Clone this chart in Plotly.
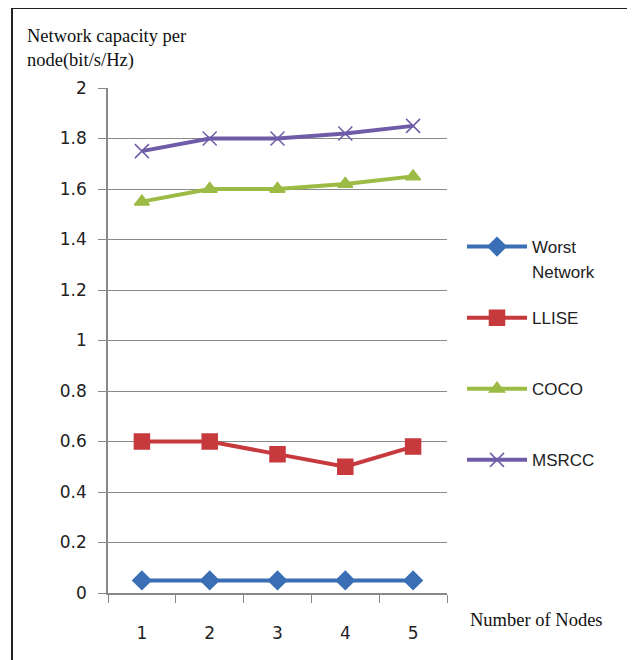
import plotly.graph_objects as go

nodes = ["1", "2", "3", "4", "5"]
worst = [0.05, 0.05, 0.05, 0.05, 0.05]
llise = [0.60, 0.60, 0.55, 0.50, 0.58]
coco = [1.55, 1.60, 1.60, 1.62, 1.65]
msrcc = [1.75, 1.80, 1.80, 1.82, 1.85]
series_names = ["Worst", "LLISE", "COCO", "MSRCC"]
y_ticks = [0, 0.2, 0.4, 0.6, 0.8, 1, 1.2, 1.4, 1.6, 1.8, 2]
y_ticklabels = ["0", "0.2", "0.4", "0.6", "0.8", "1", "1.2", "1.4", "1.6", "1.8", "2"]

colors = ["#3A6FB5", "#C63A3E", "#9BBB45", "#6F5CA8"]
symbols = ["diamond", "square", "triangle-up", "x-thin"]
sizes = [14, 15, 13, 14]
data = [worst, llise, coco, msrcc]

fig = go.Figure()
for i, (name, vals) in enumerate(zip(series_names, data)):
    fig.add_trace(go.Scatter(
        x=nodes, y=vals, name=name, mode="lines+markers",
        line=dict(color=colors[i], width=4),
        marker=dict(symbol=symbols[i], size=sizes[i], color=colors[i],
                    line=dict(color=colors[i], width=1.5)),
        legendgroup=str(i),
    ))

OFF = 8  # page body margin offset
W, H = 635, 660
L = 108 - OFF
T = 88 - OFF
R = W - (447 - OFF)
B = H - (593 - OFF)
pw = W - L - R
ph = H - T - B

def px(x):
    return (x - OFF - L) / pw

def py(y):
    return (H - B - (y - OFF)) / ph

legend_font = dict(family="Liberation Sans, Arial", size=17, color="#222")

fig.update_layout(
    width=W, height=H,
    margin=dict(l=L, r=R, t=T, b=B),
    paper_bgcolor="white", plot_bgcolor="white",
    showlegend=True,
    legend=dict(x=px(462), y=py(229), xanchor="left", yanchor="top",
                font=legend_font,
                tracegroupgap=46, itemwidth=60, bgcolor="rgba(0,0,0,0)"),
    xaxis=dict(
        type="category", range=[-0.5, 4.5],
        showgrid=False, showline=True, linecolor="#888", linewidth=1.5,
        ticks="outside", ticklen=8, tickcolor="#888", tickson="boundaries",
        ticklabelstandoff=24,
        tickfont=dict(family="DejaVu Sans", size=17, color="#222"),
    ),
    yaxis=dict(
        range=[0, 2], tickvals=y_ticks, ticktext=y_ticklabels,
        showgrid=True, gridcolor="#8a8a8a", gridwidth=1.3,
        showline=True, linecolor="#888", linewidth=1.5,
        ticks="outside", ticklen=8, tickcolor="#888",
        ticklabelstandoff=8,
        zeroline=False,
        tickfont=dict(family="DejaVu Sans", size=17, color="#222"),
    ),
    annotations=[
        dict(text="Network capacity per<br>node(bit/s/Hz)", xref="paper", yref="paper",
             x=px(25), y=py(24), xanchor="left", yanchor="top", showarrow=False, align="left",
             font=dict(family="Liberation Serif, Times New Roman", size=18.5, color="#111")),
        dict(text="Number of Nodes", xref="paper", yref="paper",
             x=px(468), y=py(620), xanchor="left", yanchor="middle", showarrow=False,
             font=dict(family="Liberation Serif, Times New Roman", size=18.5, color="#111")),
        dict(text="Network", xref="paper", yref="paper",
             x=px(530), y=py(272), xanchor="left", yanchor="middle", showarrow=False,
             font=legend_font),
    ],
    shapes=[
        dict(type="line", xref="paper", yref="paper", x0=px(12), x1=px(650), y0=py(8), y1=py(8),
             line=dict(color="#222", width=2)),
        dict(type="line", xref="paper", yref="paper", x0=px(12), x1=px(12), y0=py(8), y1=py(670),
             line=dict(color="#222", width=2)),
    ],
)

fig.write_html("out.html")
